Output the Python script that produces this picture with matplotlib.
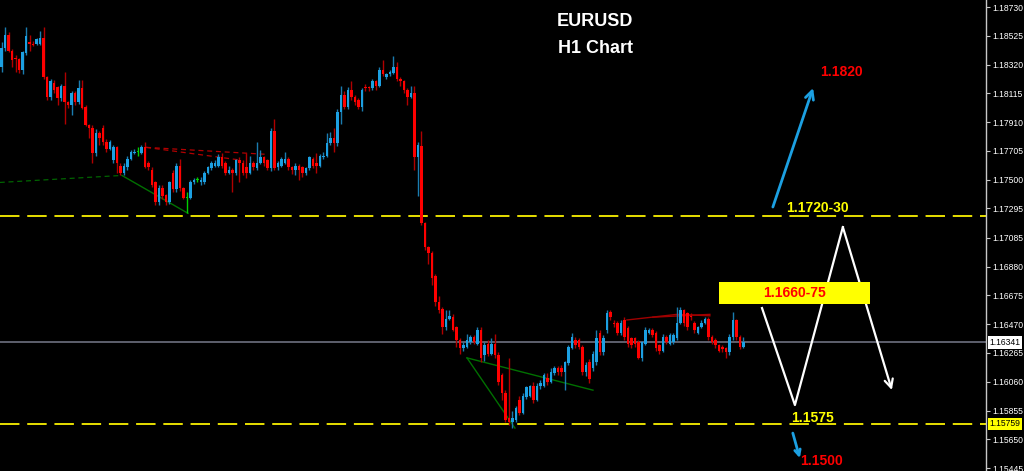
import numpy as np
import matplotlib
matplotlib.use("Agg")
import matplotlib.pyplot as plt
from matplotlib.patches import Rectangle

# ---- EURUSD H1 candles ----
opens = [
    1.1830, 1.1844, 1.1853, 1.1842, 1.1837, 1.1836, 1.1828, 1.1840, 1.1848, 1.1847,
    1.1847, 1.1847, 1.1851, 1.1823, 1.1809, 1.1819, 1.1816, 1.1808, 1.1817, 1.1805,
    1.1803, 1.1812, 1.1805, 1.1815, 1.1802, 1.1789, 1.1787, 1.1769, 1.1783, 1.1787,
    1.1777, 1.1772, 1.1764, 1.1773, 1.1760, 1.1755, 1.1759, 1.1765, 1.1769, 1.1770,
    1.1769, 1.1773, 1.1762, 1.1757, 1.1748, 1.1734, 1.1744, 1.1739, 1.1734, 1.1755,
    1.1743, 1.1760, 1.1744, 1.1737, 1.1737, 1.1748, 1.1750, 1.1748, 1.1748, 1.1755,
    1.1758, 1.1760, 1.1760, 1.1766, 1.1762, 1.1755, 1.1757, 1.1755, 1.1764, 1.1762,
    1.1759, 1.1755, 1.1762, 1.1758, 1.1762, 1.1766, 1.1764, 1.1758, 1.1785, 1.1759,
    1.1760, 1.1762, 1.1765, 1.1759, 1.1757, 1.1760, 1.1759, 1.1755, 1.1758, 1.1765,
    1.1762, 1.1760, 1.1766, 1.1767, 1.1776, 1.1780, 1.1776, 1.1798, 1.1810, 1.1802,
    1.1814, 1.1809, 1.1807, 1.1802, 1.1816, 1.1816, 1.1815, 1.1820, 1.1817, 1.1828,
    1.1823, 1.1825, 1.1826, 1.1830, 1.1822, 1.1820, 1.1814, 1.1809, 1.1812, 1.1766,
    1.1774, 1.1719, 1.1702, 1.1698, 1.1681, 1.1663, 1.1658, 1.1645, 1.1651, 1.1652,
    1.1645, 1.1636, 1.1630, 1.1631, 1.1634, 1.1638, 1.1633, 1.1643, 1.1625, 1.1633,
    1.1626, 1.1633, 1.1625, 1.1611, 1.1598, 1.1580, 1.1577, 1.1579, 1.1593, 1.1584,
    1.1595, 1.1596, 1.1603, 1.1593, 1.1603, 1.1603, 1.1609, 1.1606, 1.1612, 1.1616,
    1.1616, 1.1613, 1.1619, 1.1630, 1.1636, 1.1636, 1.1631, 1.1613, 1.1620, 1.1616,
    1.1620, 1.1641, 1.1627, 1.1643, 1.1656, 1.1648, 1.1648, 1.1641, 1.1650, 1.1644,
    1.1637, 1.1637, 1.1634, 1.1623, 1.1633, 1.1641, 1.1643, 1.1641, 1.1632, 1.1628,
    1.1638, 1.1633, 1.1634, 1.1637, 1.1648, 1.1657, 1.1655, 1.1653, 1.1648, 1.1641,
    1.1645, 1.1648, 1.1651, 1.1638, 1.1636, 1.1632, 1.1631, 1.1630, 1.1627, 1.1638,
    1.1650, 1.1638, 1.1631,
]
highs = [
    1.1848, 1.1859, 1.1855, 1.1843, 1.1839, 1.1837, 1.1842, 1.1859, 1.1853, 1.1849,
    1.1851, 1.1856, 1.1859, 1.1824, 1.1822, 1.1821, 1.1817, 1.1818, 1.1827, 1.1806,
    1.1813, 1.1813, 1.1821, 1.1821, 1.1803, 1.1790, 1.1789, 1.1786, 1.1785, 1.1789,
    1.1779, 1.1778, 1.1775, 1.1774, 1.1762, 1.1762, 1.1767, 1.1771, 1.1772, 1.1773,
    1.1775, 1.1777, 1.1763, 1.1759, 1.1749, 1.1746, 1.1746, 1.1740, 1.1749, 1.1757,
    1.1762, 1.1765, 1.1745, 1.1741, 1.1750, 1.1751, 1.1752, 1.1752, 1.1756, 1.1760,
    1.1763, 1.1764, 1.1768, 1.1769, 1.1763, 1.1760, 1.1758, 1.1765, 1.1766, 1.1764,
    1.1769, 1.1767, 1.1763, 1.1777, 1.1771, 1.1767, 1.1765, 1.1787, 1.1793, 1.1763,
    1.1766, 1.1770, 1.1766, 1.1760, 1.1762, 1.1761, 1.1760, 1.1759, 1.1767, 1.1766,
    1.1769, 1.1768, 1.1770, 1.1783, 1.1784, 1.1787, 1.1800, 1.1817, 1.1813, 1.1816,
    1.1820, 1.1810, 1.1808, 1.1815, 1.1818, 1.1817, 1.1822, 1.1821, 1.1830, 1.1835,
    1.1826, 1.1828, 1.1838, 1.1834, 1.1823, 1.1821, 1.1815, 1.1817, 1.1817, 1.1777,
    1.1785, 1.1720, 1.1703, 1.1699, 1.1683, 1.1667, 1.1659, 1.1657, 1.1657, 1.1654,
    1.1646, 1.1637, 1.1634, 1.1640, 1.1639, 1.1639, 1.1645, 1.1645, 1.1634, 1.1636,
    1.1637, 1.1640, 1.1627, 1.1612, 1.1600, 1.1623, 1.1585, 1.1589, 1.1596, 1.1598,
    1.1603, 1.1604, 1.1606, 1.1605, 1.1607, 1.1612, 1.1612, 1.1616, 1.1617, 1.1617,
    1.1618, 1.1621, 1.1632, 1.1641, 1.1638, 1.1637, 1.1632, 1.1620, 1.1622, 1.1628,
    1.1643, 1.1643, 1.1639, 1.1657, 1.1657, 1.1650, 1.1649, 1.1650, 1.1652, 1.1646,
    1.1638, 1.1638, 1.1636, 1.1635, 1.1645, 1.1644, 1.1644, 1.1642, 1.1633, 1.1640,
    1.1639, 1.1641, 1.1641, 1.1659, 1.1659, 1.1658, 1.1656, 1.1655, 1.1649, 1.1646,
    1.1650, 1.1652, 1.1652, 1.1639, 1.1637, 1.1633, 1.1632, 1.1631, 1.1640, 1.1656,
    1.1651, 1.1639, 1.1638,
]
lows = [
    1.1827, 1.1842, 1.1841, 1.1830, 1.1827, 1.1826, 1.1825, 1.1839, 1.1842, 1.1845,
    1.1846, 1.1846, 1.1822, 1.1807, 1.1807, 1.1812, 1.1803, 1.1806, 1.1790, 1.1801,
    1.1796, 1.1803, 1.1804, 1.1800, 1.1788, 1.1780, 1.1762, 1.1767, 1.1775, 1.1775,
    1.1770, 1.1771, 1.1762, 1.1755, 1.1753, 1.1753, 1.1757, 1.1764, 1.1768, 1.1767,
    1.1768, 1.1758, 1.1757, 1.1745, 1.1732, 1.1732, 1.1736, 1.1732, 1.1733, 1.1741,
    1.1741, 1.1742, 1.1736, 1.1726, 1.1736, 1.1747, 1.1748, 1.1746, 1.1747, 1.1754,
    1.1757, 1.1759, 1.1759, 1.1758, 1.1753, 1.1754, 1.1741, 1.1753, 1.1748, 1.1753,
    1.1751, 1.1754, 1.1757, 1.1757, 1.1761, 1.1760, 1.1757, 1.1756, 1.1757, 1.1757,
    1.1759, 1.1761, 1.1757, 1.1754, 1.1753, 1.1750, 1.1752, 1.1753, 1.1757, 1.1758,
    1.1755, 1.1759, 1.1765, 1.1766, 1.1775, 1.1770, 1.1774, 1.1790, 1.1800, 1.1800,
    1.1807, 1.1803, 1.1800, 1.1799, 1.1813, 1.1813, 1.1814, 1.1814, 1.1816, 1.1824,
    1.1822, 1.1824, 1.1825, 1.1820, 1.1817, 1.1812, 1.1803, 1.1808, 1.1757, 1.1738,
    1.1718, 1.1700, 1.1690, 1.1675, 1.1660, 1.1655, 1.1640, 1.1643, 1.1650, 1.1642,
    1.1631, 1.1626, 1.1628, 1.1630, 1.1633, 1.1633, 1.1632, 1.1620, 1.1621, 1.1624,
    1.1625, 1.1623, 1.1604, 1.1593, 1.1577, 1.1575, 1.1573, 1.1577, 1.1582, 1.1583,
    1.1594, 1.1595, 1.1591, 1.1592, 1.1601, 1.1602, 1.1604, 1.1605, 1.1611, 1.1611,
    1.1610, 1.1600, 1.1618, 1.1629, 1.1630, 1.1629, 1.1611, 1.1610, 1.1605, 1.1614,
    1.1618, 1.1625, 1.1625, 1.1641, 1.1650, 1.1645, 1.1639, 1.1639, 1.1636, 1.1631,
    1.1630, 1.1631, 1.1622, 1.1621, 1.1632, 1.1640, 1.1638, 1.1628, 1.1626, 1.1627,
    1.1633, 1.1632, 1.1633, 1.1636, 1.1647, 1.1646, 1.1643, 1.1650, 1.1641, 1.1640,
    1.1644, 1.1647, 1.1636, 1.1633, 1.1630, 1.1627, 1.1627, 1.1623, 1.1625, 1.1636,
    1.1636, 1.1629, 1.1630,
]
closes = [
    1.1844, 1.1853, 1.1842, 1.1835, 1.1836, 1.1828, 1.1841, 1.1852, 1.1847, 1.1846,
    1.1850, 1.1851, 1.1823, 1.1809, 1.1820, 1.1814, 1.1808, 1.1817, 1.1805, 1.1803,
    1.1812, 1.1805, 1.1815, 1.1801, 1.1789, 1.1787, 1.1769, 1.1783, 1.1780, 1.1777,
    1.1772, 1.1777, 1.1773, 1.1762, 1.1755, 1.1760, 1.1765, 1.1770, 1.1770, 1.1770,
    1.1773, 1.1759, 1.1759, 1.1746, 1.1734, 1.1744, 1.1738, 1.1734, 1.1748, 1.1743,
    1.1760, 1.1744, 1.1737, 1.1737, 1.1748, 1.1750, 1.1750, 1.1750, 1.1755, 1.1759,
    1.1762, 1.1762, 1.1766, 1.1760, 1.1755, 1.1757, 1.1755, 1.1764, 1.1762, 1.1755,
    1.1755, 1.1762, 1.1759, 1.1762, 1.1766, 1.1762, 1.1758, 1.1785, 1.1758, 1.1762,
    1.1765, 1.1765, 1.1759, 1.1757, 1.1760, 1.1757, 1.1755, 1.1758, 1.1766, 1.1760,
    1.1760, 1.1767, 1.1767, 1.1776, 1.1780, 1.1776, 1.1798, 1.1810, 1.1802, 1.1814,
    1.1809, 1.1805, 1.1802, 1.1814, 1.1815, 1.1815, 1.1820, 1.1817, 1.1828, 1.1825,
    1.1825, 1.1827, 1.1830, 1.1822, 1.1820, 1.1814, 1.1809, 1.1812, 1.1766, 1.1775,
    1.1719, 1.1702, 1.1698, 1.1680, 1.1663, 1.1657, 1.1645, 1.1651, 1.1653, 1.1643,
    1.1636, 1.1630, 1.1632, 1.1636, 1.1638, 1.1634, 1.1643, 1.1623, 1.1632, 1.1626,
    1.1633, 1.1625, 1.1606, 1.1598, 1.1579, 1.1577, 1.1580, 1.1587, 1.1584, 1.1596,
    1.1602, 1.1603, 1.1593, 1.1603, 1.1605, 1.1611, 1.1606, 1.1613, 1.1616, 1.1613,
    1.1613, 1.1620, 1.1631, 1.1638, 1.1632, 1.1631, 1.1613, 1.1618, 1.1608, 1.1626,
    1.1637, 1.1627, 1.1637, 1.1655, 1.1652, 1.1647, 1.1641, 1.1648, 1.1638, 1.1633,
    1.1632, 1.1633, 1.1623, 1.1634, 1.1643, 1.1643, 1.1639, 1.1630, 1.1628, 1.1638,
    1.1634, 1.1639, 1.1639, 1.1648, 1.1657, 1.1648, 1.1645, 1.1652, 1.1643, 1.1645,
    1.1648, 1.1651, 1.1638, 1.1634, 1.1632, 1.1628, 1.1629, 1.1627, 1.1638, 1.1650,
    1.1638, 1.1631, 1.1634,
]

# price axis ticks as shown by the terminal
tick_prices = [1.18730, 1.18525, 1.18320, 1.18115, 1.17910, 1.17705, 1.17500,
               1.17295, 1.17085, 1.16880, 1.16675, 1.16470, 1.16265, 1.16060,
               1.15855, 1.15650, 1.15445]

current_price = 1.16341
support_price = 1.15759
resistance_price = 1.1724

# trendlines drawn on the chart: (bar index, price) pairs
green_dash = ([-0.5, 34.4], [1.1748, 1.1753])
green_lines = [([34.4, 53.3], [1.1753, 1.1726]),
               ([133.0, 146.7], [1.1623, 1.1573]),
               ([133.0, 169.0], [1.1623, 1.1600])]
red_dash = [([41.3, 75.9], [1.1773, 1.1768]),
            ([41.3, 68.1], [1.1773, 1.1764])]
red_lines = [([178.7, 193.0, 202.4], [1.1650, 1.1654, 1.1653]),
             ([186.1, 202.4], [1.1652, 1.1654])]

# forecast drawing
zigzag_x = [217.3, 226.7, 240.4, 254.4]
zigzag_y = [1.16585, 1.15894, 1.17162, 1.16001]
up_arrow = ((220.4, 1.17305), (231.9, 1.18153))
down_arrow = ((226.1, 1.15694), (228.1, 1.15516))
zone_box = (205.0, 248.2, 1.16614, 1.16770)   # x0, x1, y0, y1

UP = '#1ca0e2'
DOWN = '#ff0000'
UP_WICK = '#1a7cb0'
DOWN_WICK = '#b00000'
DOJI = '#00d000'

o = np.array(opens); h = np.array(highs); l = np.array(lows); c = np.array(closes)
x = np.arange(len(o))

fig = plt.figure(figsize=(10.24, 4.71), dpi=100, facecolor='black')
ax = fig.add_axes([0, 0, 986 / 1024, 1])
ax.set_facecolor('black')

body_col, wick_col = [], []
for oi, ci in zip(o, c):
    if ci > oi:
        body_col.append(UP); wick_col.append(UP_WICK)
    elif ci < oi:
        body_col.append(DOWN); wick_col.append(DOWN_WICK)
    else:
        body_col.append(DOJI); wick_col.append(DOJI)

ax.vlines(x, l, h, colors=wick_col, linewidth=1.0, zorder=3)
body_h = np.maximum(np.abs(c - o), 0.00006)
ax.bar(x, body_h, bottom=np.minimum(o, c), width=0.74, color=body_col,
       linewidth=0, zorder=4)

# horizontal levels
ax.axhline(current_price, color='#6e7080', lw=1.2, zorder=2)
ax.axhline(resistance_price, color='#e8e000', lw=1.4, ls=(0, (10, 4)), zorder=2)
ax.axhline(support_price, color='#e8e000', lw=1.4, ls=(0, (10, 4)), zorder=2)

# trendlines
ax.plot(*green_dash, color='#006400', lw=0.9, ls=(0, (4, 3)), zorder=2)
for gx, gy in green_lines:
    ax.plot(gx, gy, color='#007000', lw=1.0, zorder=2)
for rx, ry in red_dash:
    ax.plot(rx, ry, color='#b00000', lw=0.9, ls=(0, (4, 3)), zorder=2)
for rx, ry in red_lines:
    ax.plot(rx, ry, color='#a00000', lw=1.0, zorder=2)

# forecast zigzag + arrows
ax.plot(zigzag_x[:3], zigzag_y[:3], color='white', lw=1.6, zorder=5)
ax.annotate('', xy=(zigzag_x[3], zigzag_y[3]), xytext=(zigzag_x[2], zigzag_y[2]),
            arrowprops=dict(arrowstyle='->,head_length=0.6,head_width=0.3',
                            color='white', lw=1.6, shrinkA=0, shrinkB=0), zorder=5)
ax.annotate('', xy=up_arrow[1], xytext=up_arrow[0],
            arrowprops=dict(arrowstyle='->,head_length=0.6,head_width=0.3',
                            color='#1ca0e2', lw=2, shrinkA=0, shrinkB=0), zorder=5)
ax.annotate('', xy=down_arrow[1], xytext=down_arrow[0],
            arrowprops=dict(arrowstyle='->,head_length=0.4,head_width=0.2',
                            color='#1ca0e2', lw=2, shrinkA=0, shrinkB=0), zorder=5)

x0, x1, y0, y1 = zone_box
ax.add_patch(Rectangle((x0, y0), x1 - x0, y1 - y0, facecolor='#ffff00',
                       edgecolor='none', zorder=6))

lbl = dict(family='Liberation Sans', weight='bold', fontsize=10, ha='center',
           va='center', zorder=7)
ax.text((x0 + x1) / 2, (y0 + y1) / 2, '1.1660-75', color='#ff0000', **lbl)
ax.text(239.9, 1.1827, '1.1820', color='#ff0000', **lbl)
ax.text(233.0, 1.17298, '1.1720-30', color='#ffff00', **lbl)
ax.text(231.6, 1.15801, '1.1575', color='#ffff00', **lbl)
ax.text(234.4, 1.15495, '1.1500', color='#ff0000', **lbl)

fig.text(0.581, 0.955, 'EURUSD', color='white', family='Liberation Sans',
         weight='bold', fontsize=13, ha='center', va='center')
fig.text(0.582, 0.898, 'H1 Chart', color='white', family='Liberation Sans',
         weight='bold', fontsize=13, ha='center', va='center')

# axes / price scale
ax.set_xlim(-0.43, 281.3)
ax.set_ylim(1.15424, 1.18780)
ax.set_xticks([])
ax.yaxis.tick_right()
ax.set_yticks(tick_prices)
ax.set_yticklabels(['%.5f' % p for p in tick_prices])
ax.tick_params(axis='y', colors='#c8c8c8', labelcolor='white', labelsize=6.2,
               length=3, width=0.8, pad=1.5)
for lab in ax.get_yticklabels():
    lab.set_family('Liberation Sans')
for s in ['top', 'left', 'bottom']:
    ax.spines[s].set_visible(False)
ax.spines['right'].set_color('#c8c8c8')
ax.spines['right'].set_linewidth(1)

ytr = ax.get_yaxis_transform()
ax.text(1.0035, current_price, '%.5f' % current_price, transform=ytr,
        fontsize=6.2, family='Liberation Sans', color='black', ha='left', va='center',
        bbox=dict(boxstyle='square,pad=0.2', facecolor='white', edgecolor='none'),
        clip_on=False, zorder=8)
ax.text(1.0035, support_price, '%.5f' % support_price, transform=ytr,
        fontsize=6.2, family='Liberation Sans', color='black', ha='left', va='center',
        bbox=dict(boxstyle='square,pad=0.2', facecolor='#ffff00', edgecolor='none'),
        clip_on=False, zorder=8)

fig.savefig('out.png', dpi=100, facecolor='black')
